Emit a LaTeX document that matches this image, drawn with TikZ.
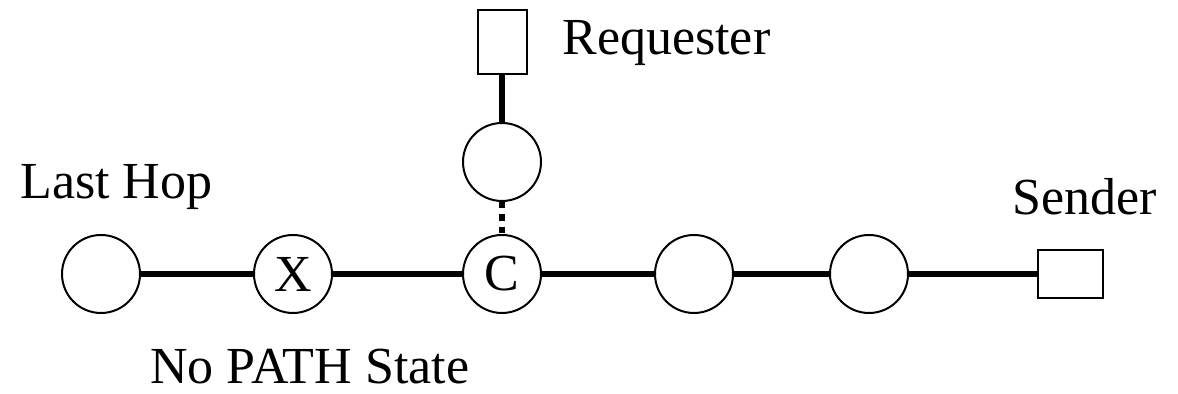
\documentclass[tikz,border=0pt]{standalone}
\usepackage{fontspec}
\setmainfont{Liberation Serif}
\begin{document}
\begin{tikzpicture}[x=0.5pt,y=-0.5pt]
            \useasboundingbox (0,0) rectangle (1178,394);
            \begin{scope}[every node/.style={circle,draw,line width=1pt,minimum size=39pt,inner sep=0pt,font=\fontsize{26}{30}\selectfont}]
                \node (last) at (101,274) {};
                \node (x) at (293,274) {X};
                \node (c) at (502,274) {C};
                \node (up) at (502,162) {};
                \node (r4) at (694,274) {};
                \node (r5) at (869,274) {};
            \end{scope}
            \begin{scope}[every node/.style={rectangle,draw,line width=1pt,inner sep=0pt}]
                \node[minimum width=24.5pt,minimum height=32pt] (req) at (502,42.5) {};
                \node[minimum width=32.5pt,minimum height=24pt] (send) at (1070,274) {};
            \end{scope}
            \begin{scope}[every node/.style={anchor=base west,inner sep=0pt,font=\fontsize{26}{30}\selectfont}]
                \node (lastlbl) at (20,199) {Last Hop};
                \node (nopath) at (150,384) {No PATH State};
                \node (reqlbl) at (562,55) {Requester};
                \node (sendlbl) at (1012,215) {Sender};
            \end{scope}
            \begin{scope}[every edge/.style={draw,line width=3.2pt}]
                \path
                    (last) edge (x)
                    (x) edge (c)
                    (c) edge (r4)
                    (r4) edge (r5)
                    (r5) edge (send)
                    (req) edge (up);
            \end{scope}
            \path (up) edge [draw,line width=3.2pt,dash pattern=on 3.2pt off 3pt] (c);
\end{tikzpicture}
\end{document}
